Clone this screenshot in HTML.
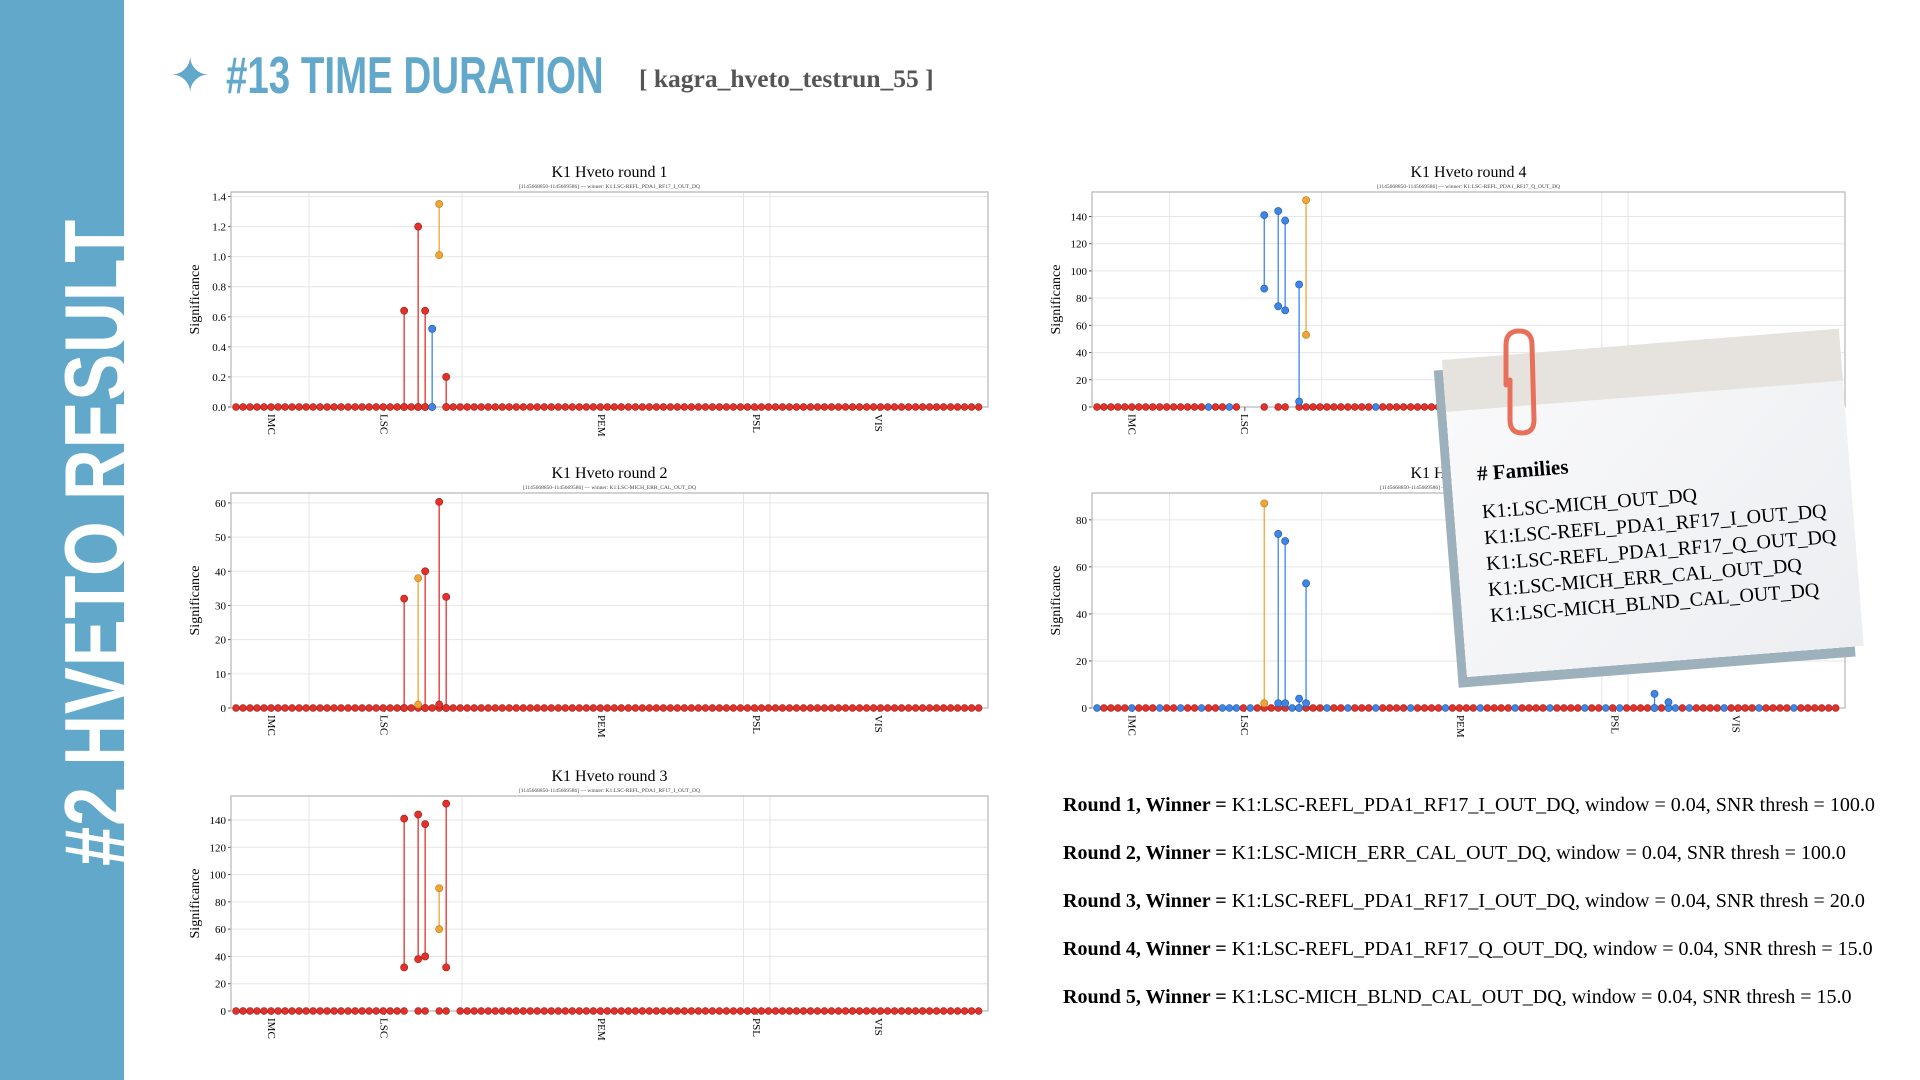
<!DOCTYPE html>
<html><head><meta charset="utf-8">
<style>
html,body{margin:0;padding:0;background:#fff;}
body{width:1920px;height:1080px;position:relative;overflow:hidden;font-family:"Liberation Serif",serif;}
#side{position:absolute;left:0;top:0;width:124px;height:1080px;background:#62a8cb;}
#sidetxt{position:absolute;left:52px;top:866px;transform-origin:0 0;transform:rotate(-90deg) scaleX(0.8);white-space:nowrap;color:#fff;font:bold 88px "Liberation Sans",sans-serif;letter-spacing:1px;line-height:1;}
#star{position:absolute;left:170px;top:52px;color:#62a8cb;font-size:48px;line-height:1;font-family:"DejaVu Sans",sans-serif;}
#title{position:absolute;left:226px;top:50px;color:#62a8cb;font:bold 52px "Liberation Sans",sans-serif;transform-origin:0 0;transform:scaleX(0.74);white-space:nowrap;line-height:1;}
#sub{position:absolute;left:639px;top:64px;color:#555;font:bold 25.5px "Liberation Serif",serif;white-space:nowrap;}
.rt{position:absolute;left:1063px;font:20px "Liberation Serif",serif;white-space:nowrap;color:#000;}
#note{position:absolute;left:1442px;top:360px;width:398px;height:318px;transform:rotate(-4.5deg);transform-origin:0 0;background:linear-gradient(135deg,#fafafb,#eceef1);box-shadow:-9px 10px 0 #9cb1bb;}
#note .band{position:absolute;left:0;top:0;width:100%;height:52px;background:#e6e3de;}
#note .h{position:absolute;left:26px;top:104px;font:bold 21px "Liberation Serif",serif;}
#note .l{position:absolute;left:28px;top:142px;font:20px/26px "Liberation Serif",serif;white-space:nowrap;}
</style></head><body>
<div id="side"></div>
<div id="sidetxt">#2 HVETO RESULT</div>
<div id="star">✦</div>
<div id="title">#13 TIME DURATION</div>
<div id="sub">[ kagra_hveto_testrun_55 ]</div>
<svg id="sv" width="1920" height="1080" style="position:absolute;left:0;top:0" xmlns="http://www.w3.org/2000/svg"></svg>
<div class="rt" style="top:794px"><b>Round 1, Winner =</b> K1:LSC-REFL_PDA1_RF17_I_OUT_DQ, window = 0.04, SNR thresh = 100.0</div>
<div class="rt" style="top:842px"><b>Round 2, Winner =</b> K1:LSC-MICH_ERR_CAL_OUT_DQ, window = 0.04, SNR thresh = 100.0</div>
<div class="rt" style="top:890px"><b>Round 3, Winner =</b> K1:LSC-REFL_PDA1_RF17_I_OUT_DQ, window = 0.04, SNR thresh = 20.0</div>
<div class="rt" style="top:938px"><b>Round 4, Winner =</b> K1:LSC-REFL_PDA1_RF17_Q_OUT_DQ, window = 0.04, SNR thresh = 15.0</div>
<div class="rt" style="top:986px"><b>Round 5, Winner =</b> K1:LSC-MICH_BLND_CAL_OUT_DQ, window = 0.04, SNR thresh = 15.0</div>
<div id="note"><div class="band"></div><div class="h"># Families</div>
<div class="l">K1:LSC-MICH_OUT_DQ<br>K1:LSC-REFL_PDA1_RF17_I_OUT_DQ<br>K1:LSC-REFL_PDA1_RF17_Q_OUT_DQ<br>K1:LSC-MICH_ERR_CAL_OUT_DQ<br>K1:LSC-MICH_BLND_CAL_OUT_DQ</div></div>
<svg width="60" height="120" style="position:absolute;left:1494px;top:325px" xmlns="http://www.w3.org/2000/svg">
<path d="M12 60 L12 20 Q12 6 25 6 Q38 6 38 20 L40 95 Q40 108 28 108 Q16 108 16 95 L16 55" fill="none" stroke="#e8705a" stroke-width="5" stroke-linecap="round"/></svg>
<script>
var C={r:'#e3312a',b:'#3d86e8',o:'#f0a535'};
var E={r:'#9a1d18',b:'#23559c',o:'#b87718'};
var sv=document.getElementById('sv');var s='';
function chart(c){
 var L=c.l,T=c.t,W=c.w,H=215;
 var y=function(v){return (T+H)-v/c.ymax*H;};
 s+='<text x="'+(L+W/2)+'" y="'+(T-15)+'" font-size="16" text-anchor="middle" font-family="Liberation Serif">'+c.title+'</text>';
 s+='<text x="'+(L+W/2)+'" y="'+(T-4)+'" font-size="5.5" fill="#444" text-anchor="middle" font-family="Liberation Serif">'+c.sub+'</text>';
 var gx=[0.103,0.305,0.677,0.712];
 gx.forEach(function(f){s+='<line x1="'+(L+f*W)+'" x2="'+(L+f*W)+'" y1="'+T+'" y2="'+(T+H)+'" stroke="#e6e6e6"/>';});
 c.ticks.forEach(function(v){var yy=y(v);s+='<line x1="'+L+'" x2="'+(L+W)+'" y1="'+yy+'" y2="'+yy+'" stroke="#e6e6e6"/><line x1="'+(L-3)+'" x2="'+L+'" y1="'+yy+'" y2="'+yy+'" stroke="#555"/><text x="'+(L-5)+'" y="'+(yy+4)+'" font-size="11" text-anchor="end" font-family="Liberation Serif">'+v+'</text>';});
 s+='<rect x="'+L+'" y="'+T+'" width="'+W+'" height="'+H+'" fill="none" stroke="#bbb" stroke-width="1.3"/>';
 s+='<text transform="translate('+(L-32)+','+(T+H/2)+') rotate(-90)" font-size="14" text-anchor="middle" font-family="Liberation Serif">Significance</text>';
 [['IMC',0.054],['LSC',0.203],['PEM',0.49],['PSL',0.695],['VIS',0.856]].forEach(function(t){var xx=L+t[1]*W;s+='<line x1="'+xx+'" x2="'+xx+'" y1="'+(T+H)+'" y2="'+(T+H+4)+'" stroke="#555"/><text transform="translate('+(xx-4)+','+(T+H+7)+') rotate(90)" font-size="11" font-family="Liberation Serif">'+t[0]+'</text>';});
 var x=function(i){return L+5+i*(W*0.9255/100);};
 for(var i=0;i<107;i++){ if(c.skip&&c.skip.indexOf(i)>=0)continue; var col=(c.base&&c.base[i])||'r'; s+='<circle cx="'+x(i)+'" cy="'+(T+H)+'" r="3.4" fill="'+C[col]+'" stroke="'+E[col]+'" stroke-width="0.6"/>';}
 c.st.forEach(function(p){var xx=x(p[0]);s+='<line x1="'+xx+'" x2="'+xx+'" y1="'+y(p[1])+'" y2="'+y(p[2])+'" stroke="'+C[p[3]]+'" stroke-width="1.3"/>';
  [p[1],p[2]].forEach(function(v){s+='<circle cx="'+xx+'" cy="'+y(v)+'" r="3.6" fill="'+C[p[3]]+'" stroke="'+E[p[3]]+'" stroke-width="0.6"/>';});});
}
var sub1='[1145668850-1145669586] — winner: K1:LSC-REFL_PDA1_RF17_I_OUT_DQ';
function mk(list){var o={};list.forEach(function(i){o[i]='b';});return o;}
chart({l:231,t:192,w:757,ymax:1.43,ticks:[0.0,0.2,0.4,0.6,0.8,1.0,1.2,1.4].map(function(v){return v.toFixed(1);}),title:'K1 Hveto round 1',sub:sub1,base:mk([28]),
 st:[[24,0,0.64,'r'],[26,0,1.2,'r'],[27,0,0.64,'r'],[28,0,0.52,'b'],[29,1.01,1.35,'o'],[30,0,0.2,'r']],skip:[29]});
chart({l:231,t:493,w:757,ymax:62.9,ticks:[0,10,20,30,40,50,60],title:'K1 Hveto round 2',sub:'[1145668850-1145669586] — winner: K1:LSC-MICH_ERR_CAL_OUT_DQ',
 st:[[24,0,32,'r'],[26,1,38,'o'],[27,0,40,'r'],[29,1,60.3,'r'],[30,0,32.5,'r']]});
chart({l:231,t:796,w:757,ymax:157.6,ticks:[0,20,40,60,80,100,120,140],title:'K1 Hveto round 3',sub:sub1,skip:[25,28,31],
 st:[[24,32,141,'r'],[26,38,144,'r'],[27,40,137,'r'],[29,60,90,'o'],[30,32,152,'r']]});
chart({l:1092,t:192,w:753,ymax:158,ticks:[0,20,40,60,80,100,120,140],title:'K1 Hveto round 4',sub:'[1145668850-1145669586] — winner: K1:LSC-REFL_PDA1_RF17_Q_OUT_DQ',
 base:mk([16,19,40,55,70,88,95]),skip:[21,22,23,25,28],
 st:[[24,87,141,'b'],[26,74,144,'b'],[27,71,137,'b'],[29,4,90,'b'],[30,53,152,'o']]});
chart({l:1092,t:493,w:753,ymax:91.4,ticks:[0,20,40,60,80],title:'K1 Hveto round 5',sub:'[1145668850-1145669586] — winner: K1:LSC-MICH_BLND_CAL_OUT_DQ',
 base:mk([0,5,9,12,15,18,19,20,22,28,33,36,40,45,50,55,60,65,70,73,75,80,83,85,90,95,100]),
 st:[[24,2,87,'o'],[26,2,74,'b'],[27,2,71,'b'],[29,0,4,'b'],[30,2,53,'b'],[80,0,6,'b'],[82,0,2.5,'b']]});
sv.innerHTML=s;
</script>
</body></html>
